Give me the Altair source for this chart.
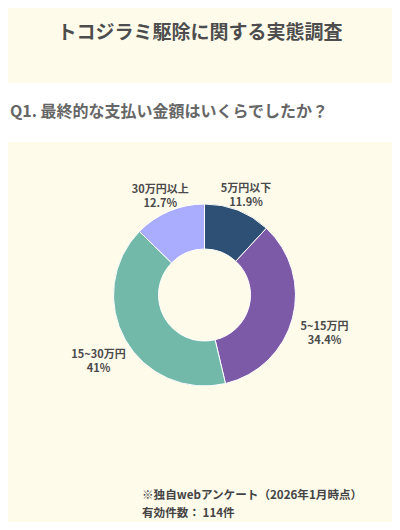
import altair as alt
import pandas as pd

TITLE = "トコジラミ駆除に関する実態調査"
QUESTION = "Q1. 最終的な支払い金額はいくらでしたか？"
NOTE1 = "※独自webアンケート（2026年1月時点）"
NOTE2 = "有効件数： 114件"

categories = ["5万円以下", "5~15万円", "15~30万円", "30万円以上"]
values = [11.9, 34.4, 41, 12.7]
colors = ["#2d5074", "#7c5aa8", "#72b9a9", "#aaacfe"]

FONT = "Noto Sans CJK JP"
BG = "#fefbeb"

df = pd.DataFrame({"idx": list(range(len(categories))), "cat": categories, "val": values})

CX, CY = 196.5, 287

base = alt.Chart(df).transform_window(
    cum="sum(val)", sort=[alt.SortField("idx")], frame=[None, 0]
).transform_calculate(
    midp="datum.cum - datum.val/2",
    mid="(datum.cum - datum.val/2) / 100 * 2 * PI",
    r="112 + 13 * pow(sin(datum.mid), 2)",
    label="datum.cat + '\\n' + datum.val + '%'",
)

arcs = base.mark_arc(outerRadius=91, innerRadius=46, stroke="white", strokeWidth=1).encode(
    theta=alt.Theta("val:Q", stack=True),
    color=alt.Color("cat:N", scale=alt.Scale(domain=categories, range=colors), legend=None),
    order=alt.Order("idx:Q"),
    x=alt.value(CX),
    y=alt.value(CY),
)

labels = base.mark_text(
    font=FONT, fontSize=11, fontWeight="bold", color="#4a4a4a",
    lineBreak="\n", lineHeight=14, align="center", baseline="middle",
).encode(
    theta=alt.Theta("midp:Q", stack=None),
    radius=alt.Radius("r:Q", scale=None),
    text="label:N",
    x=alt.value(CX),
    y=alt.value(CY),
)

band = alt.Chart(pd.DataFrame({"a": [0]})).mark_rect(color="white").encode(
    x=alt.value(0), x2=alt.value(384), y=alt.value(75), y2=alt.value(134)
)

def txt(s, x, y, size, color, align="left", weight="bold"):
    return alt.Chart(pd.DataFrame({"t": [s]})).mark_text(
        font=FONT, fontSize=size, fontWeight=weight, color=color, align=align, baseline="middle"
    ).encode(text="t:N", x=alt.value(x), y=alt.value(y))

title = txt(TITLE, 192, 25, 19, "#4d4d4d", align="center")
question = txt(QUESTION, 2, 104, 16, "#666666")
note1 = txt(NOTE1, 134, 488, 11.6, "#444444")
note2 = txt(NOTE2, 134, 506, 11.6, "#444444")

chart = alt.layer(band, title, question, arcs, labels, note1, note2).properties(
    width=384, height=514, background=BG, padding=0,
    autosize=alt.AutoSizeParams(type="none"),
).configure_view(stroke=None)

chart.save("out.html", embed_options={"renderer": "svg", "actions": False})
